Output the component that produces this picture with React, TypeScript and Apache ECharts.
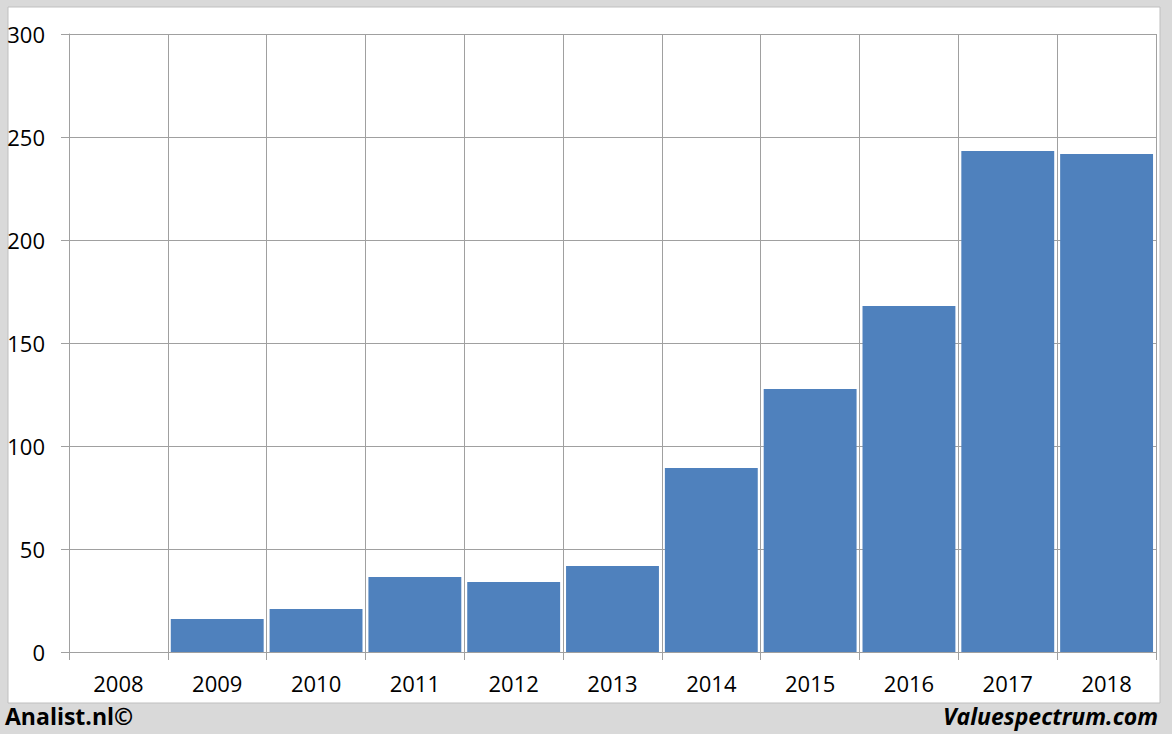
import React, { useEffect, useRef } from "react";
import * as echarts from "echarts";

const years = ["2008", "2009", "2010", "2011", "2012", "2013", "2014", "2015", "2016", "2017", "2018"];
const values: (number | null)[] = [null, 16, 20.9, 36.4, 34, 41.7, 89.3, 127.7, 168, 243.2, 241.7];
const yTicks = { min: 0, max: 300, interval: 50 };
const leftFooter = "Analist.nl©";
const rightFooter = "Valuespectrum.com";

const FONT = "'Open Sans', 'Liberation Sans', sans-serif";
const GRID_COLOR = "#a0a0a0";

export default function App() {
  const ref = useRef<HTMLDivElement>(null);
  useEffect(() => {
    document.body.style.margin = "0";
    if (!ref.current) return;
    const chart = echarts.init(ref.current, null, { renderer: "svg" });
    chart.setOption({
      animation: false,
      backgroundColor: "#d9d9d9",
      graphic: [
        {
          type: "rect",
          shape: { x: 8, y: 7, width: 1152, height: 696 },
          style: { fill: "#ffffff", stroke: "#bfbfbf", lineWidth: 1 },
          z: -10,
        },
        {
          type: "text",
          left: 5,
          top: 704,
          style: { text: leftFooter, font: `bold 23px ${FONT}`, fill: "#000" },
        },
        {
          type: "text",
          right: 14,
          top: 704,
          style: { text: rightFooter, font: `italic bold 23px ${FONT}`, fill: "#000" },
        },
      ],
      grid: { left: 69, right: 16, top: 34, bottom: 82 },
      xAxis: {
        type: "category",
        data: years,
        boundaryGap: true,
        axisLine: { show: true, lineStyle: { color: GRID_COLOR, width: 1 } },
        axisTick: { show: true, length: 8, lineStyle: { color: GRID_COLOR } },
        axisLabel: { color: "#000", fontSize: 22, fontFamily: FONT, margin: 20 },
        splitLine: { show: true, lineStyle: { color: GRID_COLOR, width: 1 } },
      },
      yAxis: {
        type: "value",
        min: yTicks.min,
        max: yTicks.max,
        interval: yTicks.interval,
        axisLine: { show: true, lineStyle: { color: GRID_COLOR, width: 1 } },
        axisTick: { show: true, length: 8, lineStyle: { color: GRID_COLOR } },
        axisLabel: { color: "#000", fontSize: 22, fontFamily: FONT, margin: 24 },
        splitLine: { show: true, lineStyle: { color: GRID_COLOR, width: 1 } },
      },
      series: [
        {
          type: "bar",
          data: values,
          barCategoryGap: "6%",
          itemStyle: { color: "#4f81bd" },
        },
      ],
    });
    return () => chart.dispose();
  }, []);
  return <div ref={ref} style={{ width: 1172, height: 734 }} />;
}
